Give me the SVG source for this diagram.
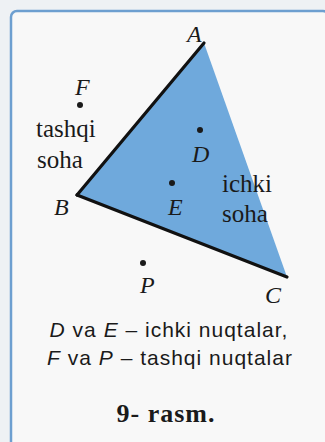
<svg xmlns="http://www.w3.org/2000/svg" width="325" height="442" viewBox="0 0 325 442">
<style>
.lbl{font-family:"Liberation Serif",serif;font-style:italic;font-size:24px;fill:#1a1a1a}
.txt{font-family:"Liberation Serif",serif;font-size:25px;fill:#1a1a1a}
.cap{font-family:"Liberation Sans",sans-serif;font-size:21px;letter-spacing:1px;fill:#1a1a1a}
.ttl{font-family:"Liberation Serif",serif;font-weight:bold;font-size:26px;letter-spacing:1px;fill:#1a1a1a}
.dot{fill:#1a1a1a}
</style>
<rect x="0" y="0" width="325" height="442" fill="#eef1f4"/>
<rect x="11" y="11" width="318" height="440" rx="6" fill="#f8f8f8" stroke="#6d9fd0" stroke-width="2.5"/>
<g id="triangle">
<polygon points="204,43 77,195 287,277" fill="#6fa9dc"/>
</g>
<g id="connectors" stroke="#111" stroke-width="3.2" fill="none" stroke-linecap="round">
<line x1="204" y1="43" x2="77" y2="195"/>
<line x1="77" y1="195" x2="287" y2="277"/>
</g>
<g id="A"><text class="lbl" x="187" y="42">A</text></g>
<g id="B"><text class="lbl" x="54" y="215">B</text></g>
<g id="C"><text class="lbl" x="265" y="303">C</text></g>
<g id="F"><circle class="dot" cx="80" cy="105" r="3"/><text class="lbl" x="75" y="95">F</text></g>
<g id="D"><circle class="dot" cx="200" cy="130" r="3"/><text class="lbl" x="192" y="162">D</text></g>
<g id="E"><circle class="dot" cx="172" cy="183" r="3"/><text class="lbl" x="168" y="215">E</text></g>
<g id="P"><circle class="dot" cx="143" cy="263" r="3"/><text class="lbl" x="140" y="293">P</text></g>
<g id="tashqi-soha"><text class="txt" x="36" y="137">tashqi</text><text class="txt" x="37" y="168">soha</text></g>
<g id="ichki-soha"><text class="txt" x="222" y="192">ichki</text><text class="txt" x="222" y="222">soha</text></g>
<g id="caption">
<text class="cap" x="169" y="337" text-anchor="middle"><tspan font-style="italic">D</tspan> va <tspan font-style="italic">E</tspan> – ichki nuqtalar,</text>
<text class="cap" x="170" y="365" text-anchor="middle"><tspan font-style="italic">F</tspan> va <tspan font-style="italic">P</tspan> – tashqi nuqtalar</text>
<text class="ttl" x="166" y="422" text-anchor="middle">9- rasm.</text>
</g>
</svg>
